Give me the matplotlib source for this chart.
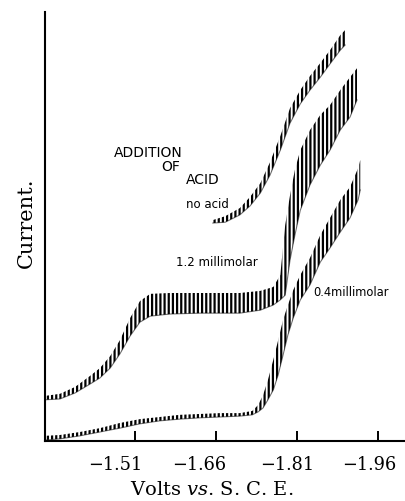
import matplotlib
matplotlib.use("Agg")
import matplotlib.pyplot as plt
from matplotlib.transforms import ScaledTranslation

# volts vs. S.C.E. and current (arbitrary units); for each wave the
# lower and upper edge of the drop-oscillation band
no_acid_v = [-1.654, -1.677, -1.704, -1.723, -1.742, -1.760, -1.779, -1.797,
             -1.816, -1.834, -1.853, -1.871, -1.890, -1.899]
no_acid_lo = [50.8, 51.0, 52.7, 54.8, 57.8, 62.0, 67.8, 74.1, 78.6, 81.8,
              84.8, 87.9, 91.1, 92.3]
no_acid_hi = [51.5, 52.4, 54.3, 56.9, 60.1, 65.0, 71.1, 77.6, 81.8, 85.1,
              88.1, 91.1, 94.6, 95.8]

mm12_v = [-1.343, -1.371, -1.399, -1.427, -1.445, -1.464, -1.482, -1.501,
          -1.519, -1.538, -1.575, -1.630, -1.704, -1.742, -1.766, -1.779,
          -1.788, -1.797, -1.806, -1.816, -1.834, -1.853, -1.871, -1.890,
          -1.908, -1.921]
mm12_lo = [9.6, 9.8, 11.2, 13.3, 14.7, 17.0, 20.3, 24.5, 27.7, 29.1, 29.6,
           29.8, 29.8, 30.5, 31.7, 32.9, 34.0, 42.2, 48.0, 53.8, 59.7, 64.3,
           67.8, 72.5, 75.5, 79.5]
mm12_hi = [10.5, 11.0, 12.6, 15.2, 17.0, 19.8, 23.5, 28.7, 32.6, 34.3, 34.5,
           34.5, 34.5, 35.0, 35.9, 38.7, 50.3, 57.3, 63.2, 67.8, 72.5, 76.0,
           78.3, 81.8, 84.8, 86.9]

mm04_v = [-1.343, -1.371, -1.408, -1.445, -1.482, -1.519, -1.556, -1.593,
          -1.630, -1.667, -1.704, -1.727, -1.738, -1.747, -1.756, -1.766,
          -1.775, -1.784, -1.793, -1.803, -1.816, -1.834, -1.853, -1.871,
          -1.890, -1.908, -1.923, -1.927]
mm04_lo = [0.2, 0.5, 1.2, 2.1, 3.0, 4.0, 4.7, 5.1, 5.4, 5.6, 5.8, 6.1, 6.8,
           7.7, 9.6, 11.9, 15.4, 20.0, 24.7, 28.7, 32.9, 36.4, 41.7, 45.0,
           48.7, 52.0, 56.2, 58.5]
mm04_hi = [1.2, 1.4, 2.1, 3.0, 4.2, 5.1, 5.6, 6.1, 6.3, 6.5, 6.5, 7.0, 8.4,
           10.7, 14.2, 18.9, 23.5, 28.2, 31.7, 35.2, 38.7, 42.7, 48.0, 52.0,
           56.2, 59.2, 63.6, 65.5]

tick_volts = [-1.51, -1.66, -1.81, -1.96]
tick_text = ["\u22121.51", "\u22121.66", "\u22121.81", "\u22121.96"]

plt.rcParams["hatch.linewidth"] = 1.6
plt.rcParams["hatch.color"] = "black"
plt.rcParams["mathtext.fontset"] = "dejavuserif"

fig = plt.figure(figsize=(4.06, 5.01), dpi=100)
ax = fig.add_axes([45 / 406, 60 / 501, 359 / 406, 429 / 501])

for v, lo, hi in [(no_acid_v, no_acid_lo, no_acid_hi),
                  (mm12_v, mm12_lo, mm12_hi),
                  (mm04_v, mm04_lo, mm04_hi)]:
    ax.fill_between(v, lo, hi, facecolor="none", edgecolor="black",
                    hatch="||||", linewidth=0)
    ax.plot(v, lo, color="black", lw=0.8, alpha=0.55)

ax.set_xlim(-1.3433, -2.008)
ax.set_ylim(0, 100)

for s in ["top", "right"]:
    ax.spines[s].set_visible(False)
ax.spines["left"].set_linewidth(1.5)
ax.spines["bottom"].set_linewidth(1.5)
ax.tick_params(axis="y", left=False, labelleft=False)
ax.set_xticks(tick_volts, tick_text, fontfamily="DejaVu Serif", fontsize=12.8)
ax.tick_params(axis="x", direction="in", length=7, width=1.4, pad=11)
shifts = [-20, -17, -10, -9]
for lab, dx in zip(ax.get_xticklabels(), shifts):
    lab.set_transform(lab.get_transform() + ScaledTranslation(dx / 100, 0, fig.dpi_scale_trans))

fig.text(212 / 406, 1 - 490 / 501, "Volts $\\mathit{vs}$. S. C. E.", ha="center", va="center",
         fontfamily="DejaVu Serif", fontsize=14)
fig.text(26 / 406, 1 - 223 / 501, "Current.", rotation=90, ha="center", va="center",
         fontfamily="DejaVu Serif", fontsize=15)

lab_kw = dict(ha="center", va="center", fontfamily="DejaVu Sans")
fig.text(148 / 406, 1 - 153 / 501, "ADDITION", fontsize=10, **lab_kw)
fig.text(171 / 406, 1 - 167 / 501, "OF", fontsize=10, **lab_kw)
fig.text(203 / 406, 1 - 180 / 501, "ACID", fontsize=10, **lab_kw)
fig.text(207 / 406, 1 - 205 / 501, "no acid", fontsize=8.5, **lab_kw)
fig.text(217 / 406, 1 - 263 / 501, "1.2 millimolar", fontsize=8.5, **lab_kw)
fig.text(351 / 406, 1 - 292 / 501, "0.4millimolar", fontsize=8.3, **lab_kw)

fig.savefig("out.png", dpi=100)
